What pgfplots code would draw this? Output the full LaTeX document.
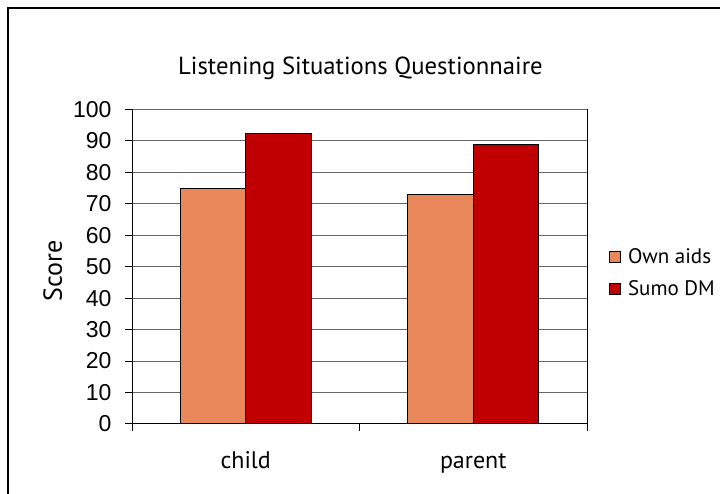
\documentclass[border=0pt]{standalone}
\usepackage{fontspec}
\setmainfont{PT Sans}
\newfontfamily\arialf{Liberation Sans}
\usepackage{pgfplots}
\pgfplotsset{compat=1.18}
\definecolor{ownc}{HTML}{E8885A}
\definecolor{sumoc}{HTML}{C00000}
\begin{document}
\begin{tikzpicture}[x=1bp,y=1bp]
\useasboundingbox (0,0) rectangle (720,494);
\draw[line width=1.5bp,black] (8,0) -- (8,486) -- (720,486);
\begin{axis}[
  at={(132bp,70bp)}, anchor=south west,
  scale only axis, width=455bp, height=314.7bp,
  xmin=0, xmax=2, ymin=0, ymax=100,
  axis x line*=bottom, axis y line*=box,
  ytick pos=left,
  axis line style={line width=1bp, black},
  ytick={0,10,...,100},
  ymajorgrids, grid style={line width=1bp, gray!80!black},
  tick align=outside,
  major tick length=7bp, minor tick length=7bp,
  tick style={line width=1bp, black},
  xtick={0.5,1.5}, xticklabels={child,parent},
  major x tick style={draw=none},
  minor xtick={0,1,2},
  /pgf/number format/assume math mode=true,
  yticklabel style={font=\arialf\fontsize{23bp}{27bp}\selectfont, xshift=-10bp},
  xticklabel style={font=\fontsize{24bp}{28bp}\selectfont, anchor=base, yshift=-38bp},
  ylabel={Score},
  ylabel style={font=\fontsize{26bp}{30bp}\selectfont, at={(axis description cs:-0.174,0.486)}, anchor=center},
  title={Listening Situations Questionnaire},
  title style={font=\fontsize{24.7bp}{29bp}\selectfont, at={(axis description cs:0.502,1.093)}, anchor=base},
  ybar=0pt, bar width=65.5bp,
  legend style={draw=none, fill=none, at={(axis description cs:1.048,0.48)}, anchor=west,
    font=\fontsize{21bp}{25bp}\selectfont, row sep=12bp, inner sep=0pt,
    /tikz/every odd column/.append style={column sep=5bp}},
  legend cell align=left,
  legend image code/.code={\draw[#1, line width=1bp] (0bp,-5.5bp) rectangle (11bp,5.5bp);},
]
\addplot[fill=ownc, draw=black, line width=1bp] coordinates {(0.5,74.7) (1.5,73.0)};
\addlegendentry{Own aids}
\addplot[fill=sumoc, draw=black, line width=1bp] coordinates {(0.5,92.3) (1.5,88.9)};
\addlegendentry{Sumo DM}
\end{axis}
\end{tikzpicture}
\end{document}
